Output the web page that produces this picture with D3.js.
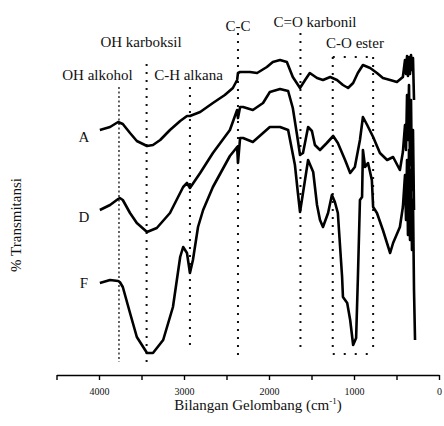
<!DOCTYPE html>
<html>
<head>
<meta charset="utf-8">
<script src="https://cdn.jsdelivr.net/npm/d3@7"></script>
<style>
  body { margin: 0; background: #fff; }
  svg text { font-family: "Liberation Serif", "Times New Roman", serif; fill: #111; }
</style>
</head>
<body>
<div id="chart"></div>
<script>
// wavenumbers (cm-1) and % transmittance (offset, arbitrary units)
var wnA = [3990, 3870, 3775, 3720, 3635, 3555, 3435, 3365, 3280, 3165, 3045, 2965, 2930, 2810, 2660, 2520, 2425, 2375, 2365, 2340, 2225, 2140, 2025, 1955, 1870, 1790, 1720, 1635, 1575, 1520, 1435, 1365, 1280, 1200, 1130, 1070, 1010, 955, 895, 810, 730, 660, 575, 495, 425, 400, 388, 376, 365, 353, 341, 329, 318, 306, 294];
var tA  = [120, 121.5, 124, 123, 118.5, 114.5, 112, 112.5, 115, 120, 124.5, 127, 127, 129, 133.5, 137.5, 141, 145, 148.5, 149, 149, 148.5, 151.5, 154, 155, 154, 146.5, 141, 145, 148.5, 146, 145, 146.5, 145, 142.5, 141, 143.5, 148.5, 152.5, 151, 148.5, 146, 145, 144, 146.5, 155, 148, 157, 147, 156.5, 148, 157.5, 150, 156, 135];

var wnD = [3990, 3870, 3775, 3755, 3720, 3635, 3555, 3435, 3320, 3165, 3010, 2965, 2930, 2810, 2660, 2460, 2375, 2365, 2340, 2305, 2190, 2070, 1990, 1870, 1775, 1720, 1670, 1635, 1600, 1540, 1495, 1460, 1400, 1320, 1245, 1190, 1105, 1045, 990, 930, 895, 845, 775, 695, 610, 540, 460, 425, 400, 388, 376, 365, 353, 341, 329, 318, 306, 294];
var tD  = [80, 82.5, 85.5, 86, 85, 78.5, 73.5, 69, 71, 78.5, 91.5, 93.5, 91, 98.5, 108.5, 120, 130, 126, 131.5, 131.5, 130, 133.5, 139, 140.5, 139.5, 131, 117.5, 107.5, 108.5, 121.5, 119.5, 112.5, 110, 113.5, 117, 113.5, 105, 98.5, 101.5, 115, 126.5, 122.5, 116.5, 108.5, 105, 106.5, 100, 109, 122.5, 110, 137.5, 115, 142.5, 102.5, 135, 90, 120, 80];

var wnF = [3990, 3870, 3775, 3755, 3720, 3635, 3555, 3435, 3365, 3245, 3130, 3045, 3010, 2965, 2930, 2895, 2835, 2775, 2660, 2460, 2375, 2365, 2340, 2305, 2190, 2070, 1990, 1870, 1775, 1695, 1660, 1635, 1600, 1540, 1480, 1435, 1400, 1365, 1305, 1260, 1225, 1190, 1140, 1130, 1080, 1045, 1010, 975, 955, 930, 905, 895, 870, 835, 790, 775, 730, 660, 575, 540, 460, 425, 400, 388, 376, 365, 353, 341, 329, 318, 306, 294, 282];
var tF  = [43.5, 45, 44.5, 44, 41.5, 28.5, 16.5, 8.5, 8.5, 15, 31.5, 56.5, 61.5, 58.5, 48.5, 55, 71.5, 80, 91.5, 107, 111.5, 103.5, 116, 116, 114, 118.5, 121.5, 121.5, 120, 102.5, 88.5, 79, 88.5, 105, 99, 82.5, 75, 71.5, 78.5, 87.5, 84, 78.5, 46.5, 36.5, 33.5, 25, 12.5, 16, 45, 85, 86.5, 110, 101.5, 103.5, 95, 81.5, 78.5, 70, 58.5, 63.5, 71.5, 81.5, 97.5, 75, 105, 67.5, 110, 65, 100, 60, 85, 40, 15];

var seriesNames = ["A", "D", "F"];
var seriesLabelT = [114, 74, 41];

// band assignments: wavenumber and vertical extent of the dotted guide
var bandNames = ["OH alkohol", "OH karboksil", "C-H alkana", "C-C", "C=O karbonil", "C-O ester", ""];
var bandWn    = [3765, 3440, 2930, 2365, 1630, 1250, 775];
var bandTop   = [141.5, 153, 141.5, 168.5, 168.5, 156.5, 156.5];
var bandBot   = [4, 4, 10, 6, 9, 10, 9];

var xTicks = [4500, 4000, 3500, 3000, 2500, 2000, 1500, 1000, 500, 0];

var svgWidth = 444;
var svgHeight = 426;

var svg = d3.select("#chart")
    .append("svg")
    .attr("width", svgWidth)
    .attr("height", svgHeight);

var xScale = d3.scaleLinear()
    .domain([4500, 0])
    .range([56.5, 439]);

var yScale = d3.scaleLinear()
    .domain([0, 160])
    .range([370, 50]);

// dotted guides
var guides = svg.append("g");
bandWn.forEach(function(w, i) {
    guides.append("line")
        .attr("x1", xScale(w)).attr("x2", xScale(w))
        .attr("y1", yScale(bandTop[i])).attr("y2", yScale(bandBot[i]))
        .attr("stroke", "#111")
        .attr("stroke-width", i == 0 ? 1.3 : 2)
        .attr("stroke-dasharray", i == 0 ? "2,2.5" : "2,6");
});
// C-O ester box top and bottom
[bandTop[5], bandBot[5] - 2].forEach(function(t) {
    guides.append("line")
        .attr("x1", xScale(bandWn[5])).attr("x2", xScale(bandWn[6]))
        .attr("y1", yScale(t)).attr("y2", yScale(t))
        .attr("stroke", "#111")
        .attr("stroke-width", 2)
        .attr("stroke-dasharray", "2,9");
});

// spectra
var line = d3.line()
    .x(d => xScale(d[0]))
    .y(d => yScale(d[1]));

[[wnA, tA], [wnD, tD], [wnF, tF]].forEach(function(s) {
    svg.append("path")
        .datum(d3.zip(s[0], s[1]))
        .attr("d", line)
        .attr("fill", "none")
        .attr("stroke", "#000")
        .attr("stroke-width", 2.6)
        .attr("stroke-linejoin", "round");
});

// series letters
seriesNames.forEach(function(n, i) {
    svg.append("text")
        .attr("x", 84)
        .attr("y", yScale(seriesLabelT[i]))
        .attr("text-anchor", "middle")
        .attr("font-size", 15)
        .text(n);
});

// band labels
var labelPos = [[97.5, 80], [141, 47], [188.5, 80], [238, 31], [315, 27], [355, 48]];
labelPos.forEach(function(p, i) {
    svg.append("text")
        .attr("x", p[0])
        .attr("y", p[1])
        .attr("text-anchor", "middle")
        .attr("font-size", 15)
        .text(bandNames[i]);
});

// x axis
var bottomAxis = d3.axisBottom(xScale)
    .tickValues(xTicks)
    .tickSizeInner(5)
    .tickSizeOuter(0)
    .tickFormat(d => (d % 1000 == 0 && d < 4500) ? d : "");

var axisG = svg.append("g")
    .attr("transform", "translate(0, 375)")
    .call(bottomAxis);
axisG.select(".domain").attr("stroke-width", 1.6);
axisG.selectAll(".tick line").attr("stroke-width", 1.4);
axisG.selectAll(".tick text")
    .attr("font-size", 10)
    .attr("dy", "1.2em");

var xTitle = svg.append("text")
    .attr("x", 258)
    .attr("y", 410)
    .attr("text-anchor", "middle")
    .attr("font-size", 15);
xTitle.append("tspan").text("Bilangan Gelombang (cm");
xTitle.append("tspan").attr("font-size", 9).attr("dy", -6).text("-1");
xTitle.append("tspan").attr("dy", 6).text(")");

svg.append("text")
    .attr("transform", "translate(21, 225) rotate(-90)")
    .attr("text-anchor", "middle")
    .attr("font-size", 15)
    .text("% Transmitansi");
</script>
</body>
</html>
